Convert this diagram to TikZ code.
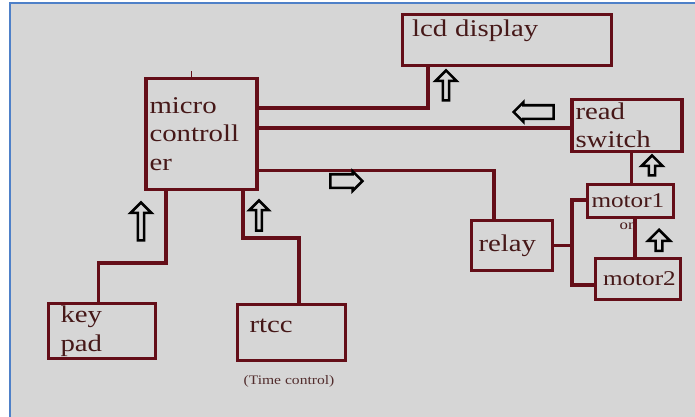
\documentclass[tikz,border=0pt]{standalone}
\usepackage{fontspec}
\setmainfont{Liberation Serif}[FakeStretch=1.2]
\usetikzlibrary{shapes.arrows}
\definecolor{wirered}{RGB}{100,14,24}
\definecolor{txtbrown}{RGB}{70,24,24}
\definecolor{bggray}{RGB}{214,214,214}
\definecolor{frameblue}{RGB}{78,128,200}

\begin{document}
\begin{tikzpicture}[%
      x=1pt, y=-1pt,
      wire/.style={color=wirered, line width=3.5pt},
      blk/.style={draw=wirered, line width=3.5pt, text=txtbrown, align=left,
        inner ysep=0pt, font=\fontsize{24}{28.5}\selectfont},
      harrow/.style={single arrow, draw=black, fill=bggray, line width=2.6pt,
        inner xsep=0pt, inner ysep=5.5pt, single arrow head extend=3pt},
      ]
      \useasboundingbox (0,0) rectangle (695,416);
      \clip (0,0) rectangle (695,416);
      \fill [white] (0,0) rectangle (695,416);
      \filldraw [fill=bggray, draw=frameblue, line width=2pt] (10,3) rectangle (720,440);

      \node [text=txtbrown, font=\fontsize{14}{16}\selectfont] (on) at (628,226.5) {on};

      \node [blk, minimum width=209pt, minimum height=51pt, text width=190pt, text depth=24pt] (lcd) at (507,40) {lcd display};
      \node [blk, minimum width=110pt, minimum height=111pt, text width=104pt] (mc) at (201.5,134) {micro\\controll\\er};
      \node [blk, minimum width=105pt, minimum height=52pt, text width=103pt] (rsw) at (627,125.5) {read\\switch};
      \node [blk, minimum width=86pt, minimum height=33pt, text width=78pt, font=\fontsize{21}{25}\selectfont] (m1) at (630.5,201) {motor1};
      \node [blk, minimum width=85pt, minimum height=41pt, text width=70pt, font=\fontsize{21}{25}\selectfont] (m2) at (638,279) {motor2};
      \node [blk, minimum width=81pt, minimum height=50pt, text width=67pt] (relay) at (512,245.5) {relay};
      \node [blk, minimum width=107pt, minimum height=55pt, text width=83pt] (kp) at (102,331) {key\\pad};
      \node [blk, minimum width=108pt, minimum height=56pt, text width=84pt, text depth=14pt] (rtcc) at (291.5,332.5) {rtcc};

      \node [text=txtbrown!80!gray, font=\fontsize{13}{15}\selectfont] (tc) at (289,381) {(Time control)};

      \draw [wire] (mc.east |- 0,108) -| (lcd.south -| 428,0);
      \draw [wire] (mc.east |- 0,128) -- (rsw.west |- 0,128);
      \draw [wire] (mc.east |- 0,170.5) -| (relay.north -| 494,0);
      \draw [wire] (mc.south -| 166,0) |- (98.5,263) -- (kp.north -| 98.5,0);
      \draw [wire] (mc.south -| 243,0) |- (299,238) -- (rtcc.north -| 299,0);
      \draw [wire] (relay.east) -- (relay.east -| 572,0);
      \draw [wire] (m1.west |- 0,200) -| (572,246) |- (m2.west |- 0,285);
      \draw [wire] (rsw.south -| 631.5,0) -- (m1.north -| 631.5,0);
      \draw [wire] (m1.south -| 635,0) -- (m2.north -| 635,0);
      \draw [wire, line width=1.5pt] (mc.north -| 191.5,0) -- ++(0,-6);

      \node [harrow, minimum height=30pt, minimum width=21pt, shape border rotate=90] (uplcd) at (446,87) {};
      \node [harrow, minimum height=40pt, minimum width=19pt, shape border rotate=180] (leftrsw) at (537,112) {};
      \node [harrow, minimum height=32pt, minimum width=17pt] (rightrelay) at (343,181) {};
      \node [harrow, minimum height=38pt, minimum width=21pt, shape border rotate=90] (upkp) at (141,223) {};
      \node [harrow, minimum height=30pt, minimum width=19pt, shape border rotate=90] (uprtcc) at (259,217) {};
      \node [harrow, minimum height=20pt, minimum width=21pt, shape border rotate=90] (upmone) at (652,167) {};
      \node [harrow, minimum height=21pt, minimum width=22pt, shape border rotate=90] (upmtwo) at (659,242) {};
\end{tikzpicture}
\end{document}
